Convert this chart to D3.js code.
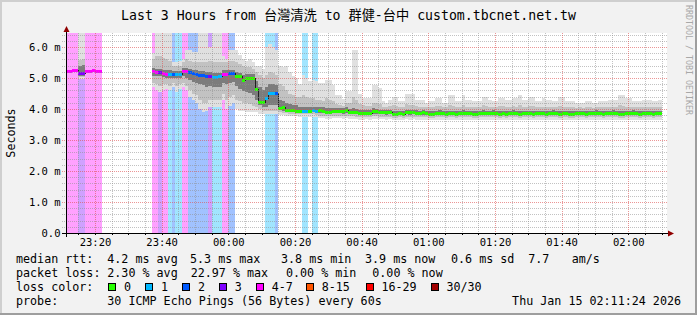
<!DOCTYPE html>
<html>
<head>
<meta charset="utf-8">
<script src="https://cdn.jsdelivr.net/npm/d3@7"></script>
<style>
  body { margin: 0; background: #f2f2f2; }
  svg { display: block; }
  text { font-family: "DejaVu Sans Mono", "Noto Sans CJK TC", monospace; fill: #000; }
</style>
</head>
<body>
<div class="chart"></div>
<script>
// one value per minute, first step 23:11-23:12, last step 02:09-02:10
// median rtt (ms), null = no data
const medianRtt = [
  5.21,5.21,5.26,5.26,5.15,5.15,5.23,5.23,5.25,5.23,5.23,
  null,null,null,null,null,null,null,null,null,null,null,null,null,null,null,
  5.22,5.18,5.20,5.15,5.14,5.14,5.13,5.14,5.14,5.22,5.24,5.18,5.16,5.14,5.10,5.10,5.08,5.07,5.04,5.04,5.06,5.14,5.14,5.15,5.15,
  5.06,5.05,4.93,4.99,5.00,5.00,4.65,4.24,4.21,4.35,4.53,4.53,4.53,4.02,4.05,3.98,3.97,3.96,3.95,3.95,3.93,3.94,3.93,3.97,3.95,
  3.96,3.95,3.91,3.91,3.94,3.95,3.95,3.93,3.97,3.91,3.91,3.90,3.87,3.87,3.88,3.87,3.93,3.92,3.90,3.90,
  3.89,3.90,3.85,3.84,3.86,3.84,3.90,3.89,3.90,3.88,3.87,3.89,3.86,3.85,3.85,3.86,3.88,3.87,3.85,3.86,
  3.87,3.85,3.86,3.88,3.87,3.86,3.85,3.84,3.86,3.88,3.87,3.86,3.88,3.87,3.85,3.86,3.85,3.87,3.88,3.86,
  3.85,3.86,3.87,3.86,3.84,3.86,3.87,3.86,3.85,3.87,3.88,3.86,3.85,3.87,3.86,3.85,3.84,3.86,3.87,3.86,
  3.85,3.87,3.86,3.88,3.86,3.85,3.86,3.87,3.88,3.86,3.85,3.84,3.86,3.87,3.88,3.86,3.85,3.87,3.86,3.86,3.85,3.86,3.86
]
// lost pings out of 30
const lostPings = [
  5,5,5,5,3,3,5,5,5,5,5,
  null,null,null,null,null,null,null,null,null,null,null,null,null,null,null,
  5,5,3,5,5,1,2,1,1,5,5,2,2,2,2,2,2,3,1,1,1,5,5,2,2,
  0,0,0,0,0,0,0,0,0,1,1,1,2,0,0,0,0,0,0,0,1,1,0,1,1,
  0,0,0,0,0,0,0,0,0,0,0,0,0,0,0,0,0,0,0,0,
  0,0,0,0,0,0,0,0,0,0,0,0,0,0,0,0,0,0,0,0,
  0,0,0,0,0,0,0,0,0,0,0,0,0,0,0,0,0,0,0,0,
  0,0,0,0,0,0,0,0,0,0,0,0,0,0,0,0,0,0,0,0,
  0,0,0,0,0,0,0,0,0,0,0,0,0,0,0,0,0,0,0,0,0,0,0
]
// smoke: spread of the single pings (ms)
const pingMin = [
  5.20,5.20,5.25,5.25,4.98,4.98,5.22,5.22,5.24,5.22,5.22,
  null,null,null,null,null,null,null,null,null,null,null,null,null,null,null,
  4.70,4.60,4.55,4.60,4.65,4.60,4.70,4.55,4.65,4.70,4.60,4.40,4.30,4.20,4.00,3.90,3.95,4.05,4.05,4.05,4.05,4.30,4.00,4.10,4.20,
  4.00,3.95,3.95,3.90,3.90,3.90,3.90,3.85,3.85,3.85,3.85,3.85,3.85,3.80,3.80,3.78,3.78,3.78,3.78,3.75,3.75,3.75,3.75,3.75,3.75,
  3.70,3.70,3.69,3.69,3.70,3.70,3.70,3.69,3.70,3.68,3.68,3.67,3.66,3.66,3.67,3.66,3.69,3.68,3.67,3.67,
  3.66,3.67,3.64,3.63,3.65,3.63,3.67,3.66,3.67,3.66,3.65,3.66,3.65,3.64,3.64,3.65,3.66,3.65,3.64,3.65,
  3.66,3.64,3.65,3.66,3.65,3.65,3.64,3.63,3.65,3.66,3.66,3.65,3.66,3.65,3.64,3.65,3.64,3.66,3.66,3.65,
  3.64,3.65,3.66,3.65,3.63,3.65,3.66,3.65,3.64,3.66,3.66,3.65,3.64,3.66,3.65,3.64,3.63,3.65,3.66,3.65,
  3.64,3.66,3.65,3.66,3.65,3.64,3.65,3.66,3.66,3.65,3.64,3.63,3.65,3.66,3.66,3.65,3.64,3.66,3.65,3.65,3.64,3.65,3.65
]
const ping10 = [
  5.20,5.20,5.25,5.25,5.02,5.03,5.22,5.22,5.24,5.22,5.22,
  null,null,null,null,null,null,null,null,null,null,null,null,null,null,null,
  4.85,4.80,4.75,4.80,4.80,4.75,4.85,4.75,4.80,4.85,4.75,4.60,4.50,4.45,4.30,4.20,4.20,4.30,4.30,4.30,4.30,4.50,4.30,4.40,4.45,
  4.30,4.25,4.20,4.20,4.15,4.10,4.05,4.00,3.95,3.95,3.95,3.95,3.95,3.90,3.88,3.87,3.85,3.85,3.85,3.84,3.83,3.83,3.83,3.83,3.82,
  3.78,3.78,3.77,3.77,3.78,3.78,3.78,3.77,3.78,3.76,3.76,3.75,3.74,3.74,3.75,3.74,3.77,3.76,3.75,3.75,
  3.74,3.75,3.72,3.71,3.73,3.71,3.75,3.74,3.75,3.74,3.73,3.74,3.73,3.72,3.72,3.73,3.74,3.73,3.72,3.73,
  3.74,3.72,3.73,3.74,3.73,3.73,3.72,3.71,3.73,3.74,3.74,3.73,3.74,3.73,3.72,3.73,3.72,3.74,3.74,3.73,
  3.72,3.73,3.74,3.73,3.71,3.73,3.74,3.73,3.72,3.74,3.74,3.73,3.72,3.74,3.73,3.72,3.71,3.73,3.74,3.73,
  3.72,3.74,3.73,3.74,3.73,3.72,3.73,3.74,3.74,3.73,3.72,3.71,3.73,3.74,3.74,3.73,3.72,3.74,3.73,3.73,3.72,3.73,3.73
]
const ping25 = [
  5.21,5.21,5.26,5.26,5.08,5.08,5.23,5.23,5.25,5.23,5.23,
  null,null,null,null,null,null,null,null,null,null,null,null,null,null,null,
  5.08,5.05,5.05,5.02,5.00,5.00,5.00,5.00,5.00,5.08,5.00,4.92,4.88,4.84,4.80,4.76,4.72,4.74,4.72,4.70,4.72,4.85,4.80,4.85,4.88,
  4.75,4.66,4.58,4.56,4.52,4.46,4.30,4.12,4.06,4.08,4.14,4.14,4.14,3.96,3.95,3.93,3.92,3.92,3.91,3.90,3.89,3.89,3.89,3.90,3.89,
  3.86,3.86,3.84,3.84,3.86,3.86,3.86,3.85,3.87,3.84,3.84,3.83,3.81,3.81,3.82,3.81,3.85,3.84,3.83,3.83,
  3.82,3.83,3.79,3.78,3.80,3.78,3.83,3.82,3.83,3.81,3.80,3.82,3.80,3.79,3.79,3.80,3.82,3.81,3.79,3.80,
  3.81,3.79,3.80,3.82,3.81,3.80,3.79,3.78,3.80,3.82,3.81,3.80,3.82,3.81,3.79,3.80,3.79,3.81,3.82,3.80,
  3.79,3.80,3.81,3.80,3.78,3.80,3.81,3.80,3.79,3.81,3.82,3.80,3.79,3.81,3.80,3.79,3.78,3.80,3.81,3.80,
  3.79,3.81,3.80,3.82,3.80,3.79,3.80,3.81,3.82,3.80,3.79,3.78,3.80,3.81,3.82,3.80,3.79,3.81,3.80,3.80,3.79,3.80,3.80
]
const ping75 = [
  5.21,5.21,5.26,5.26,5.40,5.42,5.23,5.23,5.25,5.23,5.23,
  null,null,null,null,null,null,null,null,null,null,null,null,null,null,null,
  5.32,5.30,5.30,5.26,5.25,5.25,5.22,5.22,5.22,5.32,5.32,5.28,5.26,5.25,5.22,5.22,5.20,5.20,5.16,5.16,5.17,5.26,5.26,5.27,5.27,
  5.20,5.17,5.10,5.12,5.12,5.12,4.90,4.70,4.62,4.70,4.80,4.80,4.76,4.30,4.26,4.20,4.16,4.12,4.12,4.08,4.08,4.08,4.08,4.08,4.06,
  4.06,4.05,4.02,4.02,4.04,4.04,4.03,4.02,4.05,4.00,4.02,4.00,3.97,3.96,3.97,3.96,4.02,4.00,3.98,3.98,
  3.97,3.98,3.94,3.93,3.95,3.93,3.98,3.97,3.98,3.96,3.95,3.97,3.94,3.93,3.93,3.94,3.96,3.95,3.93,3.94,
  3.95,3.93,3.94,3.96,3.95,3.94,3.93,3.92,3.94,3.96,3.95,3.94,3.96,3.95,3.93,3.94,3.93,3.95,3.96,3.94,
  3.93,3.94,3.95,3.94,3.92,3.94,3.95,3.94,3.93,3.95,3.96,3.94,3.93,3.95,3.94,3.93,3.92,3.94,3.95,3.94,
  3.93,3.95,3.94,3.96,3.94,3.93,3.94,3.95,3.96,3.94,3.93,3.92,3.94,3.95,3.96,3.94,3.93,3.95,3.94,3.94,3.93,3.94,3.94
]
const ping90 = [
  5.22,5.22,5.27,5.27,5.58,5.60,5.24,5.24,5.26,5.24,5.24,
  null,null,null,null,null,null,null,null,null,null,null,null,null,null,null,
  5.60,5.70,5.70,5.65,5.60,5.55,5.40,5.40,5.40,5.50,5.60,5.55,5.50,5.50,5.50,5.50,5.50,5.55,5.50,5.50,5.50,5.50,5.50,5.55,5.55,
  5.50,5.45,5.40,5.35,5.35,5.30,5.20,5.10,5.00,5.10,5.20,5.15,5.10,4.80,4.75,4.60,4.50,4.45,4.40,4.40,4.45,4.40,4.35,4.35,4.30,
  4.30,4.25,4.35,4.30,4.25,4.15,4.12,4.10,4.20,4.18,4.40,4.30,4.15,4.12,4.10,4.10,4.20,4.18,4.15,4.08,
  4.06,4.10,4.12,4.10,4.08,4.06,4.15,4.12,4.12,4.10,4.08,4.08,4.05,4.08,4.06,4.10,4.10,4.05,4.06,4.12,
  4.10,4.06,4.08,4.12,4.08,4.06,4.06,4.05,4.08,4.12,4.10,4.08,4.06,4.06,4.10,4.10,4.08,4.06,4.10,4.08,
  4.12,4.08,4.06,4.10,4.10,4.06,4.05,4.08,4.06,4.06,4.05,4.06,4.10,4.08,4.05,4.05,4.06,4.04,4.05,4.04,
  4.06,4.05,4.04,4.05,4.06,4.06,4.05,4.08,4.08,4.06,4.12,4.10,4.08,4.08,4.05,4.06,4.05,4.06,4.08,4.06,4.05,4.06,4.06
]
const pingMax = [
  5.22,5.22,5.27,5.27,6.60,6.60,5.24,5.24,5.26,5.24,5.24,
  null,null,null,null,null,null,null,null,null,null,null,null,null,null,null,
  5.80,6.60,6.60,6.60,6.60,6.60,5.50,5.50,5.55,5.60,5.90,5.90,5.85,5.85,6.60,6.60,6.60,6.00,6.60,6.60,6.60,5.70,5.60,5.90,5.90,
  5.90,5.75,5.60,5.55,5.60,5.50,5.40,5.40,5.30,6.00,6.10,6.00,5.90,5.40,5.35,5.40,5.20,5.05,5.00,4.80,5.10,5.00,4.90,4.95,4.90,
  4.84,4.84,4.95,4.95,4.78,4.46,4.46,4.33,4.57,4.57,5.91,5.91,4.50,4.35,4.35,4.35,4.78,4.78,4.67,4.25,
  4.20,4.30,4.40,4.40,4.25,4.25,4.50,4.50,4.50,4.30,4.30,4.30,4.20,4.25,4.25,4.35,4.35,4.20,4.20,4.46,
  4.46,4.25,4.25,4.46,4.30,4.30,4.25,4.25,4.25,4.40,4.40,4.30,4.25,4.25,4.35,4.35,4.30,4.30,4.35,4.35,
  4.46,4.30,4.30,4.40,4.40,4.25,4.25,4.35,4.30,4.30,4.25,4.25,4.40,4.40,4.25,4.25,4.25,4.20,4.20,4.20,
  4.25,4.25,4.20,4.20,4.25,4.25,4.25,4.30,4.30,4.30,4.46,4.46,4.35,4.35,4.25,4.25,4.25,4.30,4.30,4.30,4.25,4.25,4.30
]

const lossLabels = ['0', '1', '2', '3', '4-7', '8-15', '16-29', '30/30']
const lossColors = ['#26ff00', '#00b8ff', '#0059ff', '#7e00ff', '#ff00ff', '#ff5500', '#ff0000', '#a00000']
const yTicks = [0, 1, 2, 3, 4, 5, 6]

const W = 697, H = 315
const pL = 66.3, pR = 666.3, pT = 33, pB = 233

const startTime = new Date(2026, 0, 14, 23, 11, 24)
const endTime = new Date(2026, 0, 15, 2, 11, 24)
const minuteAt = i => new Date(2026, 0, 14, 23, 11 + i)

const x = d3.scaleTime().domain([startTime, endTime]).range([pL, pR])
const y = d3.scaleLinear().domain([0, 200 / 31]).range([pB, pT])
const lossColor = d3.scaleThreshold().domain([1, 2, 3, 4, 8, 16, 30]).range(lossColors)

const rows = medianRtt.map((m, i) => ({
  t: minuteAt(i), t2: minuteAt(i + 1), med: m, loss: lostPings[i],
  lo: pingMin[i], p10: ping10[i], p25: ping25[i], p75: ping75[i], p90: ping90[i], hi: pingMax[i]
}))
const px = t => Math.round(x(t))

const svg = d3.select('.chart').append('svg')
  .attr('width', W).attr('height', H)

svg.append('rect').attr('width', W).attr('height', H).attr('fill', '#f2f2f2')
svg.append('path').attr('d', `M0,0H${W}V2H2V${H}H0Z`).attr('fill', '#cfcfcf')
svg.append('path').attr('d', `M${W},${H}H0V${H - 2}H${W - 2}V0H${W}Z`).attr('fill', '#9e9e9e')

svg.append('defs').append('clipPath').attr('id', 'clip')
  .append('rect').attr('x', pL).attr('y', pT).attr('width', pR - pL).attr('height', pB - pT)

svg.append('rect').attr('x', 66).attr('y', pT).attr('width', 601).attr('height', pB - pT).attr('fill', '#fff')

const plot = svg.append('g').attr('clip-path', 'url(#clip)').attr('shape-rendering', 'crispEdges')
const withData = rows.filter(d => d.med != null)

// loss background
plot.append('g').selectAll('rect')
  .data(withData.filter(d => d.loss > 0))
  .join('rect')
  .attr('x', d => px(d.t)).attr('width', d => px(d.t2) - px(d.t))
  .attr('y', pT).attr('height', pB - pT)
  .attr('fill', d => lossColor(d.loss)).attr('fill-opacity', 0.37)

// smoke
const layers = [['lo', 'hi', '#e0e0e0'], ['p10', 'p90', '#c2c2c2'], ['p25', 'p75', '#7c7c7c']]
layers.forEach(([a, b, c]) => {
  plot.append('g').selectAll('rect')
    .data(withData)
    .join('rect')
    .attr('x', d => px(d.t)).attr('width', d => px(d.t2) - px(d.t))
    .attr('y', d => Math.round(y(d[b]))).attr('height', d => Math.round(y(d[a])) - Math.round(y(d[b])))
    .attr('fill', c)
})

// median
const linePts = []
rows.forEach(d => {
  if (d.med == null) linePts.push({ t: d.t, v: null })
  else { linePts.push({ t: d.t, v: d.med }); linePts.push({ t: d.t2, v: d.med }) }
})
plot.append('path')
  .attr('d', d3.line().defined(d => d.v != null).x(d => px(d.t)).y(d => Math.round(y(d.v)) + 0.5)(linePts))
  .attr('fill', 'none').attr('stroke', '#202020').attr('stroke-width', 1)

plot.append('g').selectAll('rect')
  .data(withData)
  .join('rect')
  .attr('x', d => px(d.t)).attr('width', d => px(d.t2) - px(d.t))
  .attr('y', d => Math.round(y(d.med)) - 1).attr('height', 3)
  .attr('fill', d => lossColor(d.loss))

// grid
const grid = svg.append('g').attr('shape-rendering', 'crispEdges').attr('fill', 'none')
const minorX = d3.timeMinute.every(5).range(startTime, endTime).filter(t => t.getMinutes() % 20 !== 0)
const majorX = d3.timeMinute.every(20).range(startTime, endTime)
const minorY = d3.range(1, 33).map(v => v / 5).filter(v => v % 1 !== 0 && y(v) >= pT)

grid.selectAll('.mx').data(minorX).join('line')
  .attr('x1', d => px(d) + 0.5).attr('x2', d => px(d) + 0.5).attr('y1', pT).attr('y2', pB)
  .attr('stroke', 'rgba(143,143,143,0.55)').attr('stroke-dasharray', '1,1')
grid.selectAll('.my').data(minorY).join('line')
  .attr('x1', 62).attr('x2', 667).attr('y1', d => Math.round(y(d)) + 0.5).attr('y2', d => Math.round(y(d)) + 0.5)
  .attr('stroke', 'rgba(143,143,143,0.55)').attr('stroke-dasharray', '1,1')
grid.selectAll('.Mx').data(majorX).join('line')
  .attr('x1', d => px(d) + 0.5).attr('x2', d => px(d) + 0.5).attr('y1', pT).attr('y2', pB)
  .attr('stroke', 'rgba(222,80,80,0.6)').attr('stroke-dasharray', '1,1')
grid.selectAll('.My').data(yTicks.slice(1)).join('line')
  .attr('x1', 62).attr('x2', 667).attr('y1', d => Math.round(y(d)) + 0.5).attr('y2', d => Math.round(y(d)) + 0.5)
  .attr('stroke', 'rgba(222,80,80,0.6)').attr('stroke-dasharray', '1,1')

// axis ticks
grid.selectAll('.tk').data(minorX.concat(majorX)).join('line')
  .attr('x1', d => px(d) + 0.5).attr('x2', d => px(d) + 0.5).attr('y1', pB).attr('y2', pB + 2)
  .attr('stroke', '#000')

// axes
const arrow = '#900000'
svg.append('line').attr('x1', 62).attr('x2', 669).attr('y1', pB + 0.5).attr('y2', pB + 0.5)
  .attr('stroke', '#000').attr('shape-rendering', 'crispEdges')
svg.append('line').attr('x1', 66.5).attr('x2', 66.5).attr('y1', pB + 4).attr('y2', 31)
  .attr('stroke', '#000').attr('shape-rendering', 'crispEdges')
svg.append('path').attr('d', `M668,${pB - 2.5}L674,${pB + 0.5}L668,${pB + 3.5}Z`).attr('fill', arrow)
svg.append('path').attr('d', `M63.5,32L66.5,26L69.5,32Z`).attr('fill', arrow)

const xAxis = d3.axisBottom(x).tickValues(majorX).tickSize(0).tickPadding(0).tickFormat(d3.timeFormat('%H:%M'))
const gx = svg.append('g').attr('transform', `translate(0,${pB})`).call(xAxis)
gx.select('.domain').remove()
gx.selectAll('text').attr('dy', null).attr('y', 12.5).attr('font-size', 10.5)
  .attr('font-family', '"DejaVu Sans Mono", monospace').attr('fill', '#000')

const yAxis = d3.axisLeft(y).tickValues(yTicks).tickSize(0).tickPadding(0)
  .tickFormat(d => d === 0 ? '0.0' : d3.format('.1f')(d) + ' m')
const gy = svg.append('g').attr('transform', 'translate(60.5,0)').call(yAxis)
gy.select('.domain').remove()
gy.selectAll('text').attr('x', 0).attr('dy', '0.36em').attr('font-size', 10.5)
  .attr('font-family', '"DejaVu Sans Mono", monospace').attr('fill', '#000')

// labels
svg.append('text').attr('x', W / 2).attr('y', 20).attr('text-anchor', 'middle').attr('font-size', 13.2)
  .text('Last 3 Hours from 台灣清洗 to 群健-台中 custom.tbcnet.net.tw')
svg.append('text').attr('transform', `translate(15,${(pT + pB) / 2}) rotate(-90)`)
  .attr('text-anchor', 'middle').attr('font-size', 11.7).text('Seconds')
svg.append('text').attr('transform', 'translate(685.5,5) rotate(90)')
  .attr('font-size', 8.3).style('fill', '#a8a8a8').text('RRDTOOL / TOBI OETIKER')

// legend
const lg = svg.append('g').attr('font-size', 11.7).attr('xml:space', 'preserve')
const put = (tx, ty, s) => lg.append('text').attr('x', tx).attr('y', ty).text(s)
put(16, 263, 'median rtt:')
put(107.3, 263, '4.2 ms avg'); put(190, 263, '5.3 ms max'); put(281, 263, '3.8 ms min')
put(365, 263, '3.9 ms now'); put(451, 263, '0.6 ms sd'); put(528.3, 263, '7.7'); put(571.7, 263, 'am/s')
put(16, 277, 'packet loss:')
put(107.3, 277, '2.30 % avg'); put(190.7, 277, '22.97 % max'); put(286, 277, '0.00 % min'); put(372.3, 277, '0.00 % now')
put(16, 291, 'loss color:')
const swatchX = [108.3, 145.3, 182.3, 219, 256, 306, 365.7, 430.7]
lossLabels.forEach((l, i) => {
  lg.append('rect').attr('x', swatchX[i] + 0.5).attr('y', 283.5).attr('width', 7).attr('height', 7)
    .attr('fill', lossColors[i]).attr('stroke', '#000').attr('shape-rendering', 'crispEdges')
  put(swatchX[i] + 15.7, 291, l)
})
put(16, 305, 'probe:')
put(107.3, 305, '30 ICMP Echo Pings (56 Bytes) every 60s')
lg.append('text').attr('x', 681).attr('y', 305).attr('text-anchor', 'end').text('Thu Jan 15 02:11:24 2026')
</script>
</body>
</html>
